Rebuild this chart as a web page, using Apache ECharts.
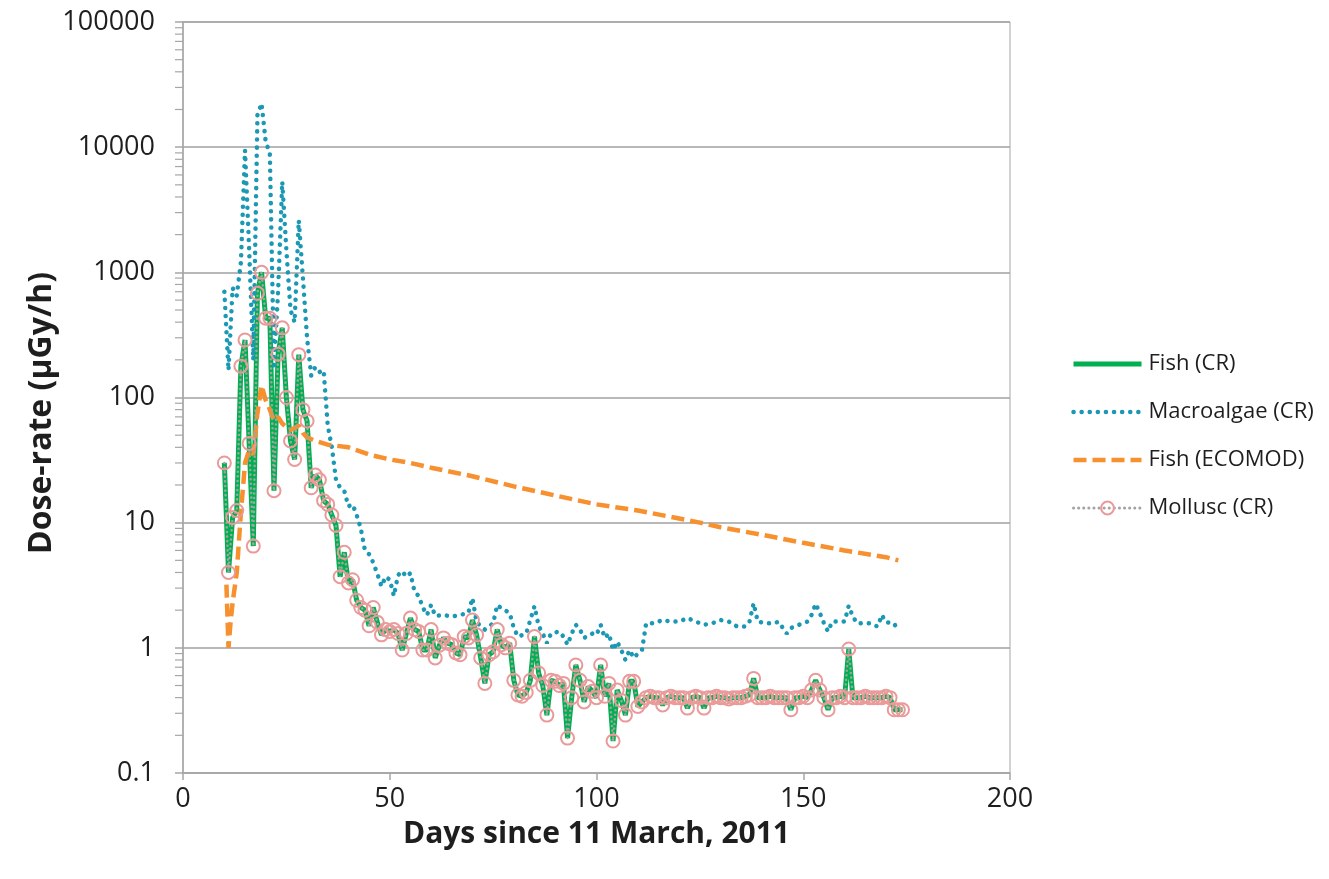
<!DOCTYPE html>
<html>
<head>
<meta charset="utf-8">
<script src="https://cdn.jsdelivr.net/npm/echarts@6/dist/echarts.min.js"></script>
<style>
html,body{margin:0;padding:0;background:#fff;}
#chart{width:1329px;height:879px;}
</style>
</head>
<body>
<div id="chart"></div>
<script>
// ---- Data (x = days since 11 March 2011, y = dose-rate µGy/h) ----
const seriesNames = ['Fish (CR)', 'Macroalgae (CR)', 'Fish (ECOMOD)', 'Mollusc (CR)'];

const fishCR = [
 [10,30],[11,4],[12,11],[13,12.5],[14,178],[15,288],[16,43],[17,6.5],[18,680],[19,1000],
 [20,430],[21,430],[22,18],[23,222],[24,360],[25,100],[26,45],[27,32],[28,220],[29,80],
 [30,65],[31,19],[32,24],[33,22],[34,15],[35,14],[36,11.5],[37,9.5],[38,3.7],[39,5.8],
 [40,3.3],[41,3.5],[42,2.4],[43,2.1],[44,2.0],[45,1.5],[46,2.1],[47,1.6],[48,1.27],[49,1.4],
 [50,1.35],[51,1.4],[52,1.3],[53,0.96],[54,1.3],[55,1.73],[56,1.4],[57,1.35],[58,0.96],[59,0.96],
 [60,1.4],[61,0.83],[62,1.05],[63,1.2],[64,1.09],[65,1.06],[66,0.91],[67,0.88],[68,1.23],[69,1.2],
 [70,1.67],[71,1.27],[72,0.83],[73,0.52],[74,0.88],[75,0.93],[76,1.4],[77,1.06],[78,1.0],[79,1.09],
 [80,0.55],[81,0.42],[82,0.41],[83,0.44],[84,0.55],[85,1.23],[86,0.63],[87,0.5],[88,0.29],[89,0.55],
 [90,0.54],[91,0.5],[92,0.52],[93,0.19],[94,0.4],[95,0.73],[96,0.55],[97,0.37],[98,0.49],[99,0.45],
 [100,0.4],[101,0.73],[102,0.41],[103,0.52],[104,0.18],[105,0.46],[106,0.38],[107,0.29],[108,0.54],[109,0.54],
 [110,0.34],[111,0.37],[112,0.4],[113,0.41],[114,0.4],[115,0.4],[116,0.35],[117,0.4],[118,0.41],[119,0.4],
 [120,0.4],[121,0.4],[122,0.33],[123,0.4],[124,0.41],[125,0.4],[126,0.33],[127,0.4],[128,0.4],[129,0.41],
 [130,0.4],[131,0.4],[132,0.39],[133,0.4],[134,0.4],[135,0.4],[136,0.41],[137,0.42],[138,0.57],[139,0.4],
 [140,0.4],[141,0.4],[142,0.41],[143,0.4],[144,0.4],[145,0.4],[146,0.4],[147,0.32],[148,0.4],[149,0.4],
 [150,0.41],[151,0.4],[152,0.46],[153,0.55],[154,0.46],[155,0.4],[156,0.32],[157,0.4],[158,0.4],[159,0.41],
 [160,0.4],[161,0.98],[162,0.4],[163,0.4],[164,0.4],[165,0.41],[166,0.4],[167,0.4],[168,0.4],[169,0.4],
 [170,0.41],[171,0.4],[172,0.32],[173,0.32],[174,0.32]
];

const molluscCR = [
 [10,30],[11,4],[12,11],[13,12.5],[14,178],[15,288],[16,43],[17,6.5],[18,680],[19,1000],
 [20,430],[21,430],[22,18],[23,222],[24,360],[25,100],[26,45],[27,32],[28,220],[29,80],
 [30,65],[31,19],[32,24],[33,22],[34,15],[35,14],[36,11.5],[37,9.5],[38,3.7],[39,5.8],
 [40,3.3],[41,3.5],[42,2.4],[43,2.1],[44,2.0],[45,1.5],[46,2.1],[47,1.6],[48,1.27],[49,1.4],
 [50,1.35],[51,1.4],[52,1.3],[53,0.96],[54,1.3],[55,1.73],[56,1.4],[57,1.35],[58,0.96],[59,0.96],
 [60,1.4],[61,0.83],[62,1.05],[63,1.2],[64,1.09],[65,1.06],[66,0.91],[67,0.88],[68,1.23],[69,1.2],
 [70,1.67],[71,1.27],[72,0.83],[73,0.52],[74,0.88],[75,0.93],[76,1.4],[77,1.06],[78,1.0],[79,1.09],
 [80,0.55],[81,0.42],[82,0.41],[83,0.44],[84,0.55],[85,1.23],[86,0.63],[87,0.5],[88,0.29],[89,0.55],
 [90,0.54],[91,0.5],[92,0.52],[93,0.19],[94,0.4],[95,0.73],[96,0.55],[97,0.37],[98,0.49],[99,0.45],
 [100,0.4],[101,0.73],[102,0.41],[103,0.52],[104,0.18],[105,0.46],[106,0.38],[107,0.29],[108,0.54],[109,0.54],
 [110,0.34],[111,0.37],[112,0.4],[113,0.41],[114,0.4],[115,0.4],[116,0.35],[117,0.4],[118,0.41],[119,0.4],
 [120,0.4],[121,0.4],[122,0.33],[123,0.4],[124,0.41],[125,0.4],[126,0.33],[127,0.4],[128,0.4],[129,0.41],
 [130,0.4],[131,0.4],[132,0.39],[133,0.4],[134,0.4],[135,0.4],[136,0.41],[137,0.42],[138,0.57],[139,0.4],
 [140,0.4],[141,0.4],[142,0.41],[143,0.4],[144,0.4],[145,0.4],[146,0.4],[147,0.32],[148,0.4],[149,0.4],
 [150,0.41],[151,0.4],[152,0.46],[153,0.55],[154,0.46],[155,0.4],[156,0.32],[157,0.4],[158,0.4],[159,0.41],
 [160,0.4],[161,0.98],[162,0.4],[163,0.4],[164,0.4],[165,0.41],[166,0.4],[167,0.4],[168,0.4],[169,0.4],
 [170,0.41],[171,0.4],[172,0.32],[173,0.32],[174,0.32]
];

const macroalgaeCR = [
 [10,700],[11,165],[12,750],[13,650],[14,1200],[15,9400],[16,1500],[17,200],[18,18000],[19,22400],
 [20,11000],[21,9000],[22,180],[23,700],[24,5300],[25,1500],[26,500],[27,400],[28,2600],[29,900],
 [30,300],[31,150],[32,175],[33,160],[34,165],[35,60],[36,40],[37,22],[38,19],[39,18],
 [40,13.5],[41,14],[42,11.5],[43,9],[44,6],[45,5.6],[46,4.8],[47,3.9],[48,3.1],[49,3.7],
 [50,3.5],[51,2.6],[52,3.8],[53,4.1],[54,3.7],[55,3.95],[56,2.8],[57,2.6],[58,2.1],[59,1.83],
 [60,2.2],[61,1.8],[63,1.83],[65,1.78],[67,1.83],[69,1.9],[70,2.5],[71,1.6],[73,1.4],[75,1.57],
 [76,2.2],[77,2.07],[79,1.9],[80,1.44],[81,1.23],[83,1.3],[85,2.15],[86,1.5],[87,1.3],[88,1.09],
 [89,1.3],[91,1.35],[92,1.23],[93,1.06],[94,1.3],[95,1.53],[96,1.4],[97,1.2],[99,1.3],[100,1.27],
 [101,1.53],[102,1.2],[103,1.3],[104,0.96],[105,1.12],[106,0.96],[107,0.8],[108,0.96],[109,0.83],[110,0.9],
 [111,0.96],[112,1.57],[114,1.57],[116,1.67],[118,1.62],[120,1.62],[122,1.73],[124,1.62],[126,1.53],[128,1.57],
 [130,1.67],[132,1.62],[134,1.48],[136,1.48],[137,1.62],[138,2.27],[139,1.62],[141,1.57],[143,1.57],[144,1.62],
 [146,1.3],[147,1.44],[149,1.53],[151,1.62],[152,1.83],[153,2.25],[154,1.9],[155,1.57],[156,1.35],[157,1.62],
 [160,1.62],[161,2.17],[162,1.78],[163,1.57],[166,1.57],[168,1.48],[169,1.83],[170,1.6],[172,1.57],[173,1.33]
];

const fishECOMOD = [
 [10.5,3.2],[11,1.0],[11.5,1.6],[12,2.3],[13,4.0],[14,12],[15,30],[16,38],[17,35],[18,75],
 [19,125],[20,95],[21,80],[22,65],[23,70],[24,62],[25,58],[26,55],[27,57],[28,60],
 [29,52],[30,48],[32,45],[35,42],[40,40],[45,35],[50,32],[55,30],[60,27.5],[70,23.5],
 [80,19.5],[90,16.5],[100,14],[110,12.5],[120,10.8],[125,10],[130,9.2],[140,8.0],[150,6.9],
 [160,6.0],[170,5.3],[173,5.0]
];

const xTicks = [0, 50, 100, 150, 200];
const yMinorTickValues = [
 0.2,0.3,0.4,0.5,0.6,0.7,0.8,0.9,
 2,3,4,5,6,7,8,9,
 20,30,40,50,60,70,80,90,
 200,300,400,500,600,700,800,900,
 2000,3000,4000,5000,6000,7000,8000,9000,
 20000,30000,40000,50000,60000,70000,80000,90000
];

const FONT = 'Open Sans';
const AXIS_GREY = '#a6a6a6';
const TEXT = '#1e1e1e';

const GREEN = '#00b050', TEAL = '#1b98b4', ORANGE = '#f7902f', GREY = '#a3a3a3', PINK = '#eb9a9a';
const greenLine = {color: GREEN, width: 5};
const tealLine = {color: TEAL, width: 4.5, type: [0.1, 8], cap: 'round'};
const orangeLine = {color: ORANGE, width: 4.5, type: [13, 6]};
const greyLine = {color: GREY, width: 3, type: [0.1, 5], cap: 'round'};

const chart = echarts.init(document.getElementById('chart'), null, {renderer: 'canvas'});

const option = {
  backgroundColor: '#ffffff',
  animation: false,
  grid: {
    left: 183, right: 319, top: 22, bottom: 106,
    show: true, borderColor: AXIS_GREY, borderWidth: 1, backgroundColor: 'transparent'
  },
  legend: {
    orient: 'vertical',
    left: 1066, top: 348,
    itemWidth: 68, itemHeight: 16, itemGap: 26,
    textStyle: {fontFamily: FONT, fontSize: 22, color: TEXT, padding: [0,0,0,2]},
    data: [
      {name: seriesNames[0], itemStyle: {opacity: 0}, lineStyle: greenLine},
      {name: seriesNames[1], itemStyle: {opacity: 0}, lineStyle: tealLine},
      {name: seriesNames[2], itemStyle: {opacity: 0}, lineStyle: orangeLine},
      {name: seriesNames[3], lineStyle: greyLine}
    ]
  },
  xAxis: {
    type: 'value', min: xTicks[0], max: xTicks[xTicks.length - 1], interval: 50,
    name: 'Days since 11 March, 2011', nameLocation: 'middle', nameGap: 46,
    nameTextStyle: {fontFamily: FONT, fontSize: 30, fontWeight: 'bold', color: TEXT},
    axisLine: {show: true, lineStyle: {color: AXIS_GREY, width: 1.5}},
    axisTick: {show: true, length: 7, lineStyle: {color: AXIS_GREY, width: 1.5}},
    axisLabel: {fontFamily: FONT, fontSize: 27, color: TEXT, margin: 13},
    splitLine: {show: false}
  },
  yAxis: {
    type: 'log', logBase: 10, min: 0.1, max: 100000,
    axisLine: {show: true, lineStyle: {color: AXIS_GREY, width: 1.5}},
    axisTick: {show: true, length: 8, lineStyle: {color: AXIS_GREY, width: 1.5}},
    axisLabel: {fontFamily: FONT, fontSize: 27, color: TEXT, margin: 28,
      formatter: function (v) { return String(+v.toPrecision(6)); }},
    splitLine: {show: true, lineStyle: {color: '#a0a0a0', width: 1.5}}
  },
  graphic: [{
    type: 'text', x: 42, y: 413, rotation: Math.PI / 2,
    style: {text: 'Dose-rate (µGy/h)', fontFamily: FONT, fontSize: 32, fontWeight: 'bold',
      fill: TEXT, align: 'center', verticalAlign: 'middle'}
  }],
  series: [
    {
      name: seriesNames[0], type: 'line', data: fishCR, symbol: 'none', z: 2,
      lineStyle: greenLine, itemStyle: {color: GREEN}
    },
    {
      name: seriesNames[1], type: 'line', data: macroalgaeCR, symbol: 'none', z: 3,
      lineStyle: tealLine, itemStyle: {color: TEAL}
    },
    {
      name: seriesNames[2], type: 'line', data: fishECOMOD, symbol: 'none', z: 4,
      lineStyle: orangeLine, itemStyle: {color: ORANGE}
    },
    {
      name: seriesNames[3], type: 'line', data: molluscCR, symbol: 'circle', symbolSize: 13, z: 5,
      lineStyle: {color: GREY, width: 2.5, type: [0.1, 4.5], cap: 'round'},
      itemStyle: {color: 'rgba(255,255,255,0)', borderColor: PINK, borderWidth: 2}
    },
    {
      name: 'minorTicks', type: 'custom', silent: true, z: 1, clip: false,
      data: yMinorTickValues.map(function (v) { return [0, v]; }),
      renderItem: function (params, api) {
        const p = api.coord([0, api.value(1)]);
        return {type: 'line', shape: {x1: p[0] - 8, y1: p[1], x2: p[0], y2: p[1]},
          style: {stroke: AXIS_GREY, lineWidth: 1.2}};
      }
    }
  ]
};

chart.setOption(option);
</script>
</body>
</html>
